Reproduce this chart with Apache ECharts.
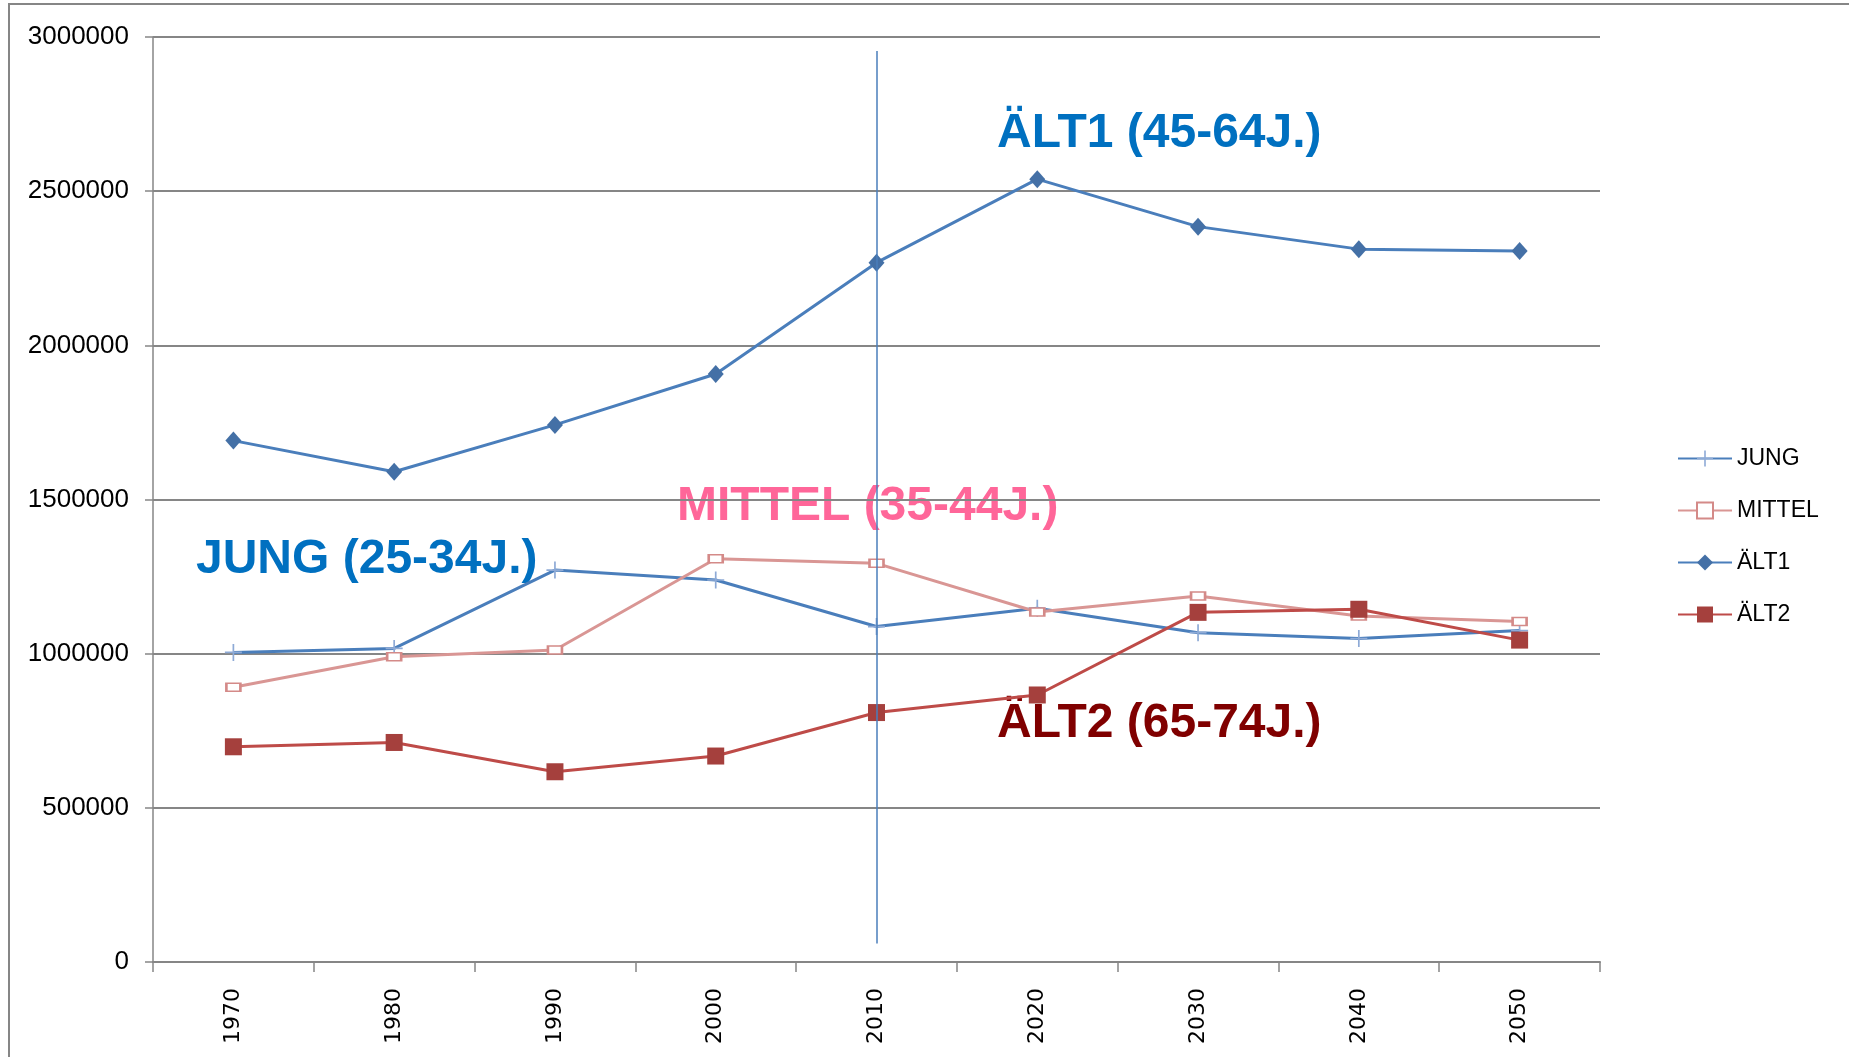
<!DOCTYPE html>
<html>
<head>
<meta charset="utf-8">
<script src="https://cdn.jsdelivr.net/npm/echarts@6/dist/echarts.min.js"></script>
<style>
  html, body { margin: 0; padding: 0; background: #fff; }
  #chart { width: 1849px; height: 1057px; }
</style>
</head>
<body>
<div id="chart"></div>
<script>
// Jahre (Kategorien)
const years = ['1970', '1980', '1990', '2000', '2010', '2020', '2030', '2040', '2050'];

// Werte je Altersgruppe
const jung   = [1004000, 1017000, 1271000, 1239000, 1088000, 1147000, 1068000, 1049000, 1075000];
const mittel = [891000, 990000, 1012000, 1308000, 1293000, 1135000, 1187000, 1122000, 1104000];
const alt1   = [1691000, 1590000, 1742000, 1907000, 2268000, 2539000, 2385000, 2312000, 2306000];
const alt2   = [698000, 712000, 617000, 668000, 809000, 866000, 1134000, 1144000, 1044000];

const yTicks = [0, 500000, 1000000, 1500000, 2000000, 2500000, 3000000];

// senkrechte Linie bei 2010
const markYear = '2010';
const markRange = [60000, 2955000];

const chart = echarts.init(document.getElementById('chart'));

const plusPath = 'path://M6.3,0H7.7V6.3H14V7.7H7.7V14H6.3V7.7H0V6.3H6.3Z';

chart.setOption({
  animation: false,
  backgroundColor: '#fff',
  grid: {
    left: 153,
    right: 249,
    top: 37,
    bottom: 95
  },
  legend: {
    orient: 'vertical',
    left: 1672,
    top: 442,
    itemWidth: 54,
    itemHeight: 20,
    itemGap: 29,
    textStyle: {
      fontFamily: 'Liberation Sans',
      fontSize: 23,
      color: '#000'
    },
    data: ['JUNG', 'MITTEL', 'ÄLT1', 'ÄLT2']
  },
  xAxis: {
    type: 'category',
    data: years,
    boundaryGap: true,
    axisLine: { lineStyle: { color: '#868686', width: 2 } },
    axisTick: { show: true, length: 10, lineStyle: { color: '#868686', width: 1.5 } },
    axisLabel: {
      rotate: 90,
      margin: 26,
      fontFamily: 'DejaVu Sans',
      fontSize: 22,
      color: '#000'
    },
    splitLine: { show: false }
  },
  yAxis: {
    type: 'value',
    min: yTicks[0],
    max: yTicks[yTicks.length - 1],
    interval: 500000,
    axisLine: { show: true, lineStyle: { color: '#868686', width: 1.5 } },
    axisTick: { show: true, length: 8, lineStyle: { color: '#868686', width: 1.5 } },
    axisLabel: {
      margin: 24,
      fontFamily: 'Liberation Sans',
      fontSize: 26,
      color: '#000',
      formatter: v => String(v)
    },
    splitLine: { lineStyle: { color: '#868686', width: 2 } }
  },
  series: [
    {
      name: 'JUNG',
      type: 'line',
      data: jung,
      symbol: plusPath,
      symbolSize: 17,
      lineStyle: { color: '#4a7ebb', width: 3 },
      itemStyle: { color: '#8eaad6' }
    },
    {
      name: 'MITTEL',
      type: 'line',
      data: mittel,
      symbol: 'rect',
      symbolSize: [14, 8],
      lineStyle: { color: '#d99694', width: 3 },
      itemStyle: { color: '#fff', borderColor: '#d48a88', borderWidth: 2 }
    },
    {
      name: 'ÄLT1',
      type: 'line',
      data: alt1,
      symbol: 'diamond',
      symbolSize: [16, 18],
      lineStyle: { color: '#4a7ebb', width: 3 },
      itemStyle: { color: '#4470a6' },
      markLine: {
        silent: true,
        symbol: ['none', 'none'],
        label: { show: false },
        lineStyle: { color: '#4a7ebb', width: 1.5, type: 'solid' },
        data: [[
          { coord: [markYear, markRange[0]] },
          { coord: [markYear, markRange[1]] }
        ]]
      }
    },
    {
      name: 'ÄLT2',
      type: 'line',
      data: alt2,
      symbol: 'rect',
      symbolSize: 17,
      lineStyle: { color: '#be4b48', width: 3 },
      itemStyle: { color: '#a5403d' }
    }
  ],
  graphic: [
    {
      type: 'rect',
      silent: true,
      shape: { x: 9, y: 4, width: 2000, height: 2000 },
      style: { fill: 'none', stroke: '#868686', lineWidth: 2 }
    },
    {
      type: 'text',
      x: 196, y: 560,
      style: {
        text: 'JUNG (25-34J.)',
        font: 'bold 48px "Liberation Sans"',
        fill: '#0070c0',
        verticalAlign: 'middle'
      }
    },
    {
      type: 'text',
      x: 677, y: 507,
      style: {
        text: 'MITTEL (35-44J.)',
        font: 'bold 48px "Liberation Sans"',
        fill: '#ff6699',
        verticalAlign: 'middle'
      }
    },
    {
      type: 'text',
      x: 997, y: 134,
      style: {
        text: 'ÄLT1 (45-64J.)',
        font: 'bold 48px "Liberation Sans"',
        fill: '#0070c0',
        verticalAlign: 'middle'
      }
    },
    {
      type: 'text',
      x: 997, y: 724,
      style: {
        text: 'ÄLT2 (65-74J.)',
        font: 'bold 48px "Liberation Sans"',
        fill: '#800000',
        verticalAlign: 'middle'
      }
    }
  ]
});
</script>
</body>
</html>
